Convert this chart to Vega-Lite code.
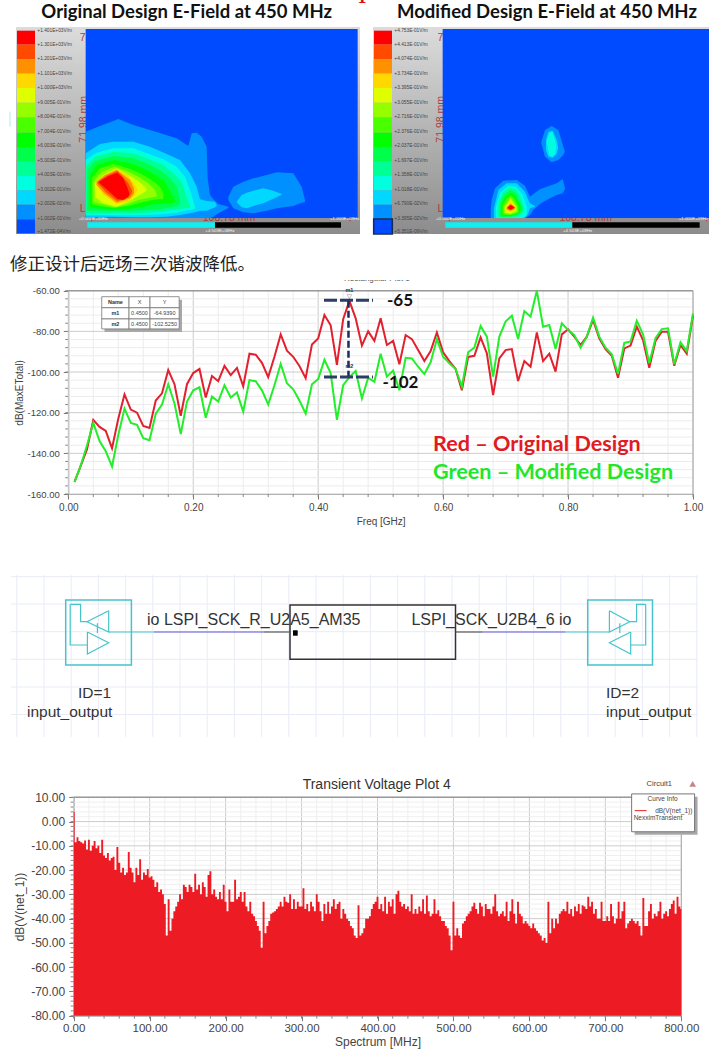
{"$schema":"https://vega.github.io/schema/vega-lite/v6.json","width":709,"height":1061,"padding":0,"autosize":{"type":"none"},"background":"white","config":{"view":{"stroke":null},"text":{"font":"Liberation Sans"},"axis":{"labelFont":"Liberation Sans","titleFont":"Liberation Sans","titleFontWeight":"normal","grid":false,"labelFlush":false,"labelOverlap":false}},
"datasets":{
"swatches":[{"l":13,"y":92,"y2":134,"xl":51,"xl2":105,"xr":42,"xr2":96},{"l":12,"y":134,"y2":178,"xl":51,"xl2":105,"xr":42,"xr2":96},{"l":11,"y":178,"y2":221,"xl":51,"xl2":105,"xr":42,"xr2":96},{"l":10,"y":221,"y2":264,"xl":51,"xl2":105,"xr":42,"xr2":96},{"l":9,"y":264,"y2":308,"xl":51,"xl2":105,"xr":42,"xr2":96},{"l":8,"y":308,"y2":352,"xl":51,"xl2":105,"xr":42,"xr2":96},{"l":7,"y":352,"y2":398,"xl":51,"xl2":105,"xr":42,"xr2":96},{"l":6,"y":398,"y2":441,"xl":51,"xl2":105,"xr":42,"xr2":96},{"l":5,"y":441,"y2":484,"xl":51,"xl2":105,"xr":42,"xr2":96},{"l":4,"y":484,"y2":527,"xl":51,"xl2":105,"xr":42,"xr2":96},{"l":3,"y":527,"y2":571,"xl":51,"xl2":105,"xr":42,"xr2":96},{"l":2,"y":571,"y2":614,"xl":51,"xl2":105,"xr":42,"xr2":96},{"l":1,"y":614,"y2":658,"xl":51,"xl2":105,"xr":42,"xr2":96},{"l":0,"y":658,"y2":700,"xl":51,"xl2":105,"xr":42,"xr2":96}],
"contL":[{"l":1,"b":"a","x":257,"y":395,"y2":654},{"l":1,"b":"a","x":300,"y":378,"y2":654},{"l":1,"b":"a","x":355,"y":357,"y2":654},{"l":1,"b":"a","x":400,"y":375,"y2":654},{"l":1,"b":"a","x":460,"y":393,"y2":654},{"l":1,"b":"a","x":530,"y":415,"y2":654},{"l":1,"b":"a","x":565,"y":438,"y2":654},{"l":1,"b":"a","x":575,"y":400,"y2":654},{"l":1,"b":"a","x":590,"y":398,"y2":654},{"l":1,"b":"a","x":605,"y":410,"y2":654},{"l":1,"b":"a","x":620,"y":440,"y2":654},{"l":1,"b":"a","x":623,"y":535,"y2":654},{"l":1,"b":"a","x":630,"y":585,"y2":654},{"l":1,"b":"a","x":640,"y":598,"y2":650},{"l":1,"b":"a","x":655,"y":612,"y2":640},{"l":1,"b":"a","x":685,"y":620,"y2":624},
{"l":1,"b":"b","x":685,"y":590,"y2":600},{"l":1,"b":"b","x":700,"y":560,"y2":625},{"l":1,"b":"b","x":730,"y":545,"y2":637},{"l":1,"b":"b","x":760,"y":535,"y2":640},{"l":1,"b":"b","x":800,"y":525,"y2":632},{"l":1,"b":"b","x":830,"y":517,"y2":625},{"l":1,"b":"b","x":880,"y":520,"y2":618},{"l":1,"b":"b","x":905,"y":560,"y2":608},{"l":1,"b":"b","x":915,"y":600,"y2":606},
{"l":2,"b":"a","x":257,"y":460,"y2":650},{"l":2,"b":"a","x":300,"y":432,"y2":650},{"l":2,"b":"a","x":340,"y":425,"y2":650},{"l":2,"b":"a","x":400,"y":425,"y2":652},{"l":2,"b":"a","x":450,"y":440,"y2":652},{"l":2,"b":"a","x":500,"y":462,"y2":650},{"l":2,"b":"a","x":540,"y":480,"y2":645},{"l":2,"b":"a","x":570,"y":520,"y2":640},{"l":2,"b":"a","x":590,"y":560,"y2":635},{"l":2,"b":"a","x":600,"y":598,"y2":632},{"l":2,"b":"a","x":620,"y":603,"y2":632},{"l":2,"b":"a","x":645,"y":605,"y2":622},{"l":2,"b":"a","x":650,"y":615,"y2":618},
{"l":2,"b":"b","x":710,"y":605,"y2":607},{"l":2,"b":"b","x":725,"y":585,"y2":622},{"l":2,"b":"b","x":740,"y":578,"y2":625},{"l":2,"b":"b","x":760,"y":572,"y2":618},{"l":2,"b":"b","x":790,"y":565,"y2":610},{"l":2,"b":"b","x":820,"y":572,"y2":596},{"l":2,"b":"b","x":845,"y":582,"y2":584},
{"l":3,"b":"a","x":257,"y":480,"y2":645},{"l":3,"b":"a","x":290,"y":458,"y2":645},{"l":3,"b":"a","x":340,"y":445,"y2":646},{"l":3,"b":"a","x":400,"y":445,"y2":646},{"l":3,"b":"a","x":440,"y":460,"y2":645},{"l":3,"b":"a","x":490,"y":478,"y2":642},{"l":3,"b":"a","x":530,"y":500,"y2":638},{"l":3,"b":"a","x":555,"y":530,"y2":632},{"l":3,"b":"a","x":570,"y":570,"y2":630},{"l":3,"b":"a","x":585,"y":620,"y2":626},
{"l":4,"b":"a","x":257,"y":500,"y2":640},{"l":4,"b":"a","x":285,"y":470,"y2":640},{"l":4,"b":"a","x":340,"y":455,"y2":640},{"l":4,"b":"a","x":400,"y":460,"y2":640},{"l":4,"b":"a","x":440,"y":475,"y2":638},{"l":4,"b":"a","x":490,"y":495,"y2":634},{"l":4,"b":"a","x":520,"y":520,"y2":630},{"l":4,"b":"a","x":545,"y":545,"y2":626},{"l":4,"b":"a","x":560,"y":590,"y2":624},{"l":4,"b":"a","x":570,"y":620,"y2":623},
{"l":5,"b":"a","x":262,"y":510,"y2":632},{"l":5,"b":"a","x":285,"y":482,"y2":632},{"l":5,"b":"a","x":340,"y":468,"y2":632},{"l":5,"b":"a","x":400,"y":475,"y2":632},{"l":5,"b":"a","x":440,"y":490,"y2":630},{"l":5,"b":"a","x":480,"y":510,"y2":628},{"l":5,"b":"a","x":510,"y":535,"y2":622},{"l":5,"b":"a","x":530,"y":560,"y2":618},{"l":5,"b":"a","x":540,"y":600,"y2":615},
{"l":6,"b":"a","x":270,"y":525,"y2":620},{"l":6,"b":"a","x":290,"y":495,"y2":625},{"l":6,"b":"a","x":340,"y":480,"y2":628},{"l":6,"b":"a","x":390,"y":490,"y2":626},{"l":6,"b":"a","x":430,"y":505,"y2":620},{"l":6,"b":"a","x":465,"y":525,"y2":612},{"l":6,"b":"a","x":495,"y":545,"y2":610},{"l":6,"b":"a","x":510,"y":575,"y2":610},{"l":6,"b":"a","x":525,"y":600,"y2":605},
{"l":7,"b":"a","x":275,"y":535,"y2":612},{"l":7,"b":"a","x":300,"y":505,"y2":618},{"l":7,"b":"a","x":340,"y":492,"y2":624},{"l":7,"b":"a","x":385,"y":505,"y2":618},{"l":7,"b":"a","x":420,"y":520,"y2":608},{"l":7,"b":"a","x":455,"y":540,"y2":600},{"l":7,"b":"a","x":480,"y":560,"y2":598},{"l":7,"b":"a","x":490,"y":580,"y2":598},
{"l":8,"b":"a","x":280,"y":545,"y2":605},{"l":8,"b":"a","x":305,"y":515,"y2":612},{"l":8,"b":"a","x":345,"y":500,"y2":622},{"l":8,"b":"a","x":385,"y":515,"y2":612},{"l":8,"b":"a","x":415,"y":530,"y2":600},{"l":8,"b":"a","x":445,"y":550,"y2":594},{"l":8,"b":"a","x":465,"y":570,"y2":590},{"l":8,"b":"a","x":470,"y":585,"y2":590},
{"l":9,"b":"a","x":285,"y":550,"y2":590},{"l":9,"b":"a","x":310,"y":525,"y2":610},{"l":9,"b":"a","x":350,"y":505,"y2":620},{"l":9,"b":"a","x":385,"y":525,"y2":605},{"l":9,"b":"a","x":410,"y":540,"y2":590},{"l":9,"b":"a","x":435,"y":560,"y2":575},{"l":9,"b":"a","x":440,"y":568,"y2":570},
{"l":10,"b":"a","x":287,"y":548,"y2":552},{"l":10,"b":"a","x":310,"y":527,"y2":585},{"l":10,"b":"a","x":350,"y":507,"y2":612},{"l":10,"b":"a","x":385,"y":527,"y2":605},{"l":10,"b":"a","x":405,"y":555,"y2":585},{"l":10,"b":"a","x":412,"y":568,"y2":572},
{"l":11,"b":"a","x":290,"y":545,"y2":555},{"l":11,"b":"a","x":315,"y":525,"y2":582},{"l":11,"b":"a","x":350,"y":510,"y2":608},{"l":11,"b":"a","x":390,"y":540,"y2":595},{"l":11,"b":"a","x":402,"y":565,"y2":580},
{"l":12,"b":"a","x":293,"y":545,"y2":550},{"l":12,"b":"a","x":320,"y":527,"y2":578},{"l":12,"b":"a","x":352,"y":512,"y2":603},{"l":12,"b":"a","x":385,"y":550,"y2":592},{"l":12,"b":"a","x":396,"y":570,"y2":578},
{"l":13,"b":"a","x":297,"y":545,"y2":548},{"l":13,"b":"a","x":325,"y":528,"y2":572},{"l":13,"b":"a","x":352,"y":518,"y2":597},{"l":13,"b":"a","x":370,"y":535,"y2":600},{"l":13,"b":"a","x":383,"y":565,"y2":592},{"l":13,"b":"a","x":388,"y":580,"y2":585}],
"contR":[{"l":1,"b":"a","x":392,"y":630,"y2":654},{"l":1,"b":"a","x":395,"y":600,"y2":654},{"l":1,"b":"a","x":405,"y":565,"y2":654},{"l":1,"b":"a","x":430,"y":542,"y2":654},{"l":1,"b":"a","x":470,"y":540,"y2":654},{"l":1,"b":"a","x":495,"y":557,"y2":654},{"l":1,"b":"a","x":510,"y":590,"y2":645},{"l":1,"b":"a","x":520,"y":582,"y2":630},{"l":1,"b":"a","x":540,"y":568,"y2":612},{"l":1,"b":"a","x":560,"y":560,"y2":600},{"l":1,"b":"a","x":590,"y":550,"y2":585},{"l":1,"b":"a","x":608,"y":537,"y2":580},{"l":1,"b":"a","x":615,"y":565,"y2":567},
{"l":1,"b":"b","x":544,"y":425,"y2":430},{"l":1,"b":"b","x":555,"y":390,"y2":470},{"l":1,"b":"b","x":575,"y":378,"y2":487},{"l":1,"b":"b","x":595,"y":390,"y2":480},{"l":1,"b":"b","x":610,"y":440,"y2":465},{"l":1,"b":"b","x":614,"y":452,"y2":456},
{"l":2,"b":"a","x":402,"y":625,"y2":654},{"l":2,"b":"a","x":415,"y":570,"y2":654},{"l":2,"b":"a","x":440,"y":550,"y2":654},{"l":2,"b":"a","x":470,"y":550,"y2":654},{"l":2,"b":"a","x":495,"y":575,"y2":654},{"l":2,"b":"a","x":505,"y":600,"y2":640},{"l":2,"b":"a","x":510,"y":610,"y2":625},{"l":2,"b":"a","x":525,"y":618,"y2":620},
{"l":2,"b":"b","x":558,"y":420,"y2":450},{"l":2,"b":"b","x":565,"y":395,"y2":470},{"l":2,"b":"b","x":578,"y":392,"y2":473},{"l":2,"b":"b","x":590,"y":420,"y2":462},{"l":2,"b":"b","x":594,"y":440,"y2":445},
{"l":3,"b":"a","x":408,"y":620,"y2":654},{"l":3,"b":"a","x":420,"y":578,"y2":654},{"l":3,"b":"a","x":445,"y":558,"y2":654},{"l":3,"b":"a","x":468,"y":560,"y2":654},{"l":3,"b":"a","x":488,"y":585,"y2":654},{"l":3,"b":"a","x":500,"y":620,"y2":645},
{"l":3,"b":"b","x":561,"y":420,"y2":430},{"l":3,"b":"b","x":568,"y":400,"y2":465},{"l":3,"b":"b","x":577,"y":395,"y2":470},{"l":3,"b":"b","x":585,"y":420,"y2":460},{"l":3,"b":"b","x":588,"y":440,"y2":443},
{"l":4,"b":"a","x":415,"y":610,"y2":650},{"l":4,"b":"a","x":430,"y":575,"y2":652},{"l":4,"b":"a","x":450,"y":562,"y2":652},{"l":4,"b":"a","x":470,"y":570,"y2":650},{"l":4,"b":"a","x":485,"y":600,"y2":642},{"l":4,"b":"a","x":492,"y":625,"y2":635},
{"l":5,"b":"a","x":420,"y":610,"y2":650},{"l":5,"b":"a","x":432,"y":585,"y2":650},{"l":5,"b":"a","x":450,"y":570,"y2":650},{"l":5,"b":"a","x":468,"y":578,"y2":646},{"l":5,"b":"a","x":480,"y":605,"y2":640},{"l":5,"b":"a","x":488,"y":625,"y2":630},
{"l":6,"b":"a","x":425,"y":612,"y2":645},{"l":6,"b":"a","x":437,"y":590,"y2":648},{"l":6,"b":"a","x":452,"y":578,"y2":648},{"l":6,"b":"a","x":465,"y":587,"y2":645},{"l":6,"b":"a","x":478,"y":612,"y2":640},{"l":6,"b":"a","x":482,"y":622,"y2":625},
{"l":7,"b":"a","x":428,"y":615,"y2":642},{"l":7,"b":"a","x":440,"y":595,"y2":645},{"l":7,"b":"a","x":452,"y":585,"y2":645},{"l":7,"b":"a","x":462,"y":595,"y2":643},{"l":7,"b":"a","x":475,"y":618,"y2":638},
{"l":8,"b":"a","x":432,"y":618,"y2":640},{"l":8,"b":"a","x":452,"y":592,"y2":643},{"l":8,"b":"a","x":472,"y":620,"y2":635},
{"l":9,"b":"a","x":436,"y":620,"y2":638},{"l":9,"b":"a","x":452,"y":598,"y2":640},{"l":9,"b":"a","x":468,"y":622,"y2":632},
{"l":10,"b":"a","x":438,"y":622,"y2":632},{"l":10,"b":"a","x":452,"y":605,"y2":636},{"l":10,"b":"a","x":467,"y":622,"y2":630},
{"l":11,"b":"a","x":440,"y":622,"y2":628},{"l":11,"b":"a","x":452,"y":612,"y2":632},{"l":11,"b":"a","x":466,"y":622,"y2":625},
{"l":12,"b":"a","x":442,"y":622,"y2":626},{"l":12,"b":"a","x":452,"y":613,"y2":630},{"l":12,"b":"a","x":464,"y":622,"y2":624},
{"l":13,"b":"a","x":444,"y":622,"y2":625},{"l":13,"b":"a","x":452,"y":615,"y2":629},{"l":13,"b":"a","x":462,"y":622,"y2":623}],
"curves":[{"x":0.01,"o":-154,"m":-154},{"x":0.02,"o":-146,"m":-146},{"x":0.03,"o":-138,"m":-136},{"x":0.04,"o":-123.5,"m":-125},{"x":0.05,"o":-127,"m":-134},{"x":0.06,"o":-129,"m":-139},{"x":0.07,"o":-137.5,"m":-146.5},{"x":0.08,"o":-123,"m":-131},{"x":0.09,"o":-111,"m":-118},{"x":0.1,"o":-118.5,"m":-125},{"x":0.11,"o":-120,"m":-126},{"x":0.12,"o":-126.5,"m":-132.5},{"x":0.13,"o":-127.5,"m":-133.5},{"x":0.14,"o":-114,"m":-120.5},{"x":0.15,"o":-110.5,"m":-116},{"x":0.16,"o":-99,"m":-106},{"x":0.17,"o":-106,"m":-115.5},{"x":0.18,"o":-121.5,"m":-130.5},{"x":0.19,"o":-106,"m":-114.5},{"x":0.2,"o":-100.5,"m":-109},{"x":0.21,"o":-98.5,"m":-107.5},{"x":0.22,"o":-112.5,"m":-122.5},{"x":0.23,"o":-102,"m":-112},{"x":0.24,"o":-104.5,"m":-114.5},{"x":0.25,"o":-97,"m":-106.5},{"x":0.26,"o":-101.5,"m":-112.5},{"x":0.27,"o":-98,"m":-110},{"x":0.28,"o":-107,"m":-119.5},{"x":0.29,"o":-91,"m":-104},{"x":0.3,"o":-91.5,"m":-104.5},{"x":0.31,"o":-95.5,"m":-109},{"x":0.32,"o":-102.5,"m":-116},{"x":0.33,"o":-92.5,"m":-106.5},{"x":0.34,"o":-81.5,"m":-96},{"x":0.35,"o":-89.5,"m":-105.5},{"x":0.36,"o":-92.5,"m":-108.5},{"x":0.37,"o":-97,"m":-114},{"x":0.38,"o":-103,"m":-120.5},{"x":0.39,"o":-86.5,"m":-106},{"x":0.4,"o":-83.5,"m":-103.5},{"x":0.41,"o":-72,"m":-94},{"x":0.42,"o":-77,"m":-100.5},{"x":0.43,"o":-96.5,"m":-123.5},{"x":0.44,"o":-74,"m":-106.5},{"x":0.45,"o":-65,"m":-102.5},{"x":0.46,"o":-73.6,"m":-99.5},{"x":0.47,"o":-87,"m":-113},{"x":0.48,"o":-80,"m":-102.8},{"x":0.49,"o":-84.7,"m":-104.8},{"x":0.5,"o":-73.6,"m":-91},{"x":0.51,"o":-86.7,"m":-102.3},{"x":0.52,"o":-84.7,"m":-99.3},{"x":0.53,"o":-96.2,"m":-109},{"x":0.54,"o":-81.8,"m":-93},{"x":0.55,"o":-83.8,"m":-93.3},{"x":0.56,"o":-89.2,"m":-97.4},{"x":0.57,"o":-94.6,"m":-101},{"x":0.58,"o":-89.7,"m":-95.2},{"x":0.59,"o":-80.5,"m":-83.8},{"x":0.6,"o":-90.3,"m":-92.5},{"x":0.61,"o":-94.6,"m":-95.7},{"x":0.62,"o":-98.5,"m":-98.5},{"x":0.63,"o":-109,"m":-107.2},{"x":0.64,"o":-92.6,"m":-90.3},{"x":0.65,"o":-92,"m":-88},{"x":0.66,"o":-83,"m":-77.4},{"x":0.67,"o":-90.8,"m":-82.6},{"x":0.68,"o":-111.3,"m":-102.3},{"x":0.69,"o":-93.3,"m":-82.6},{"x":0.7,"o":-89.2,"m":-75.2},{"x":0.71,"o":-88.7,"m":-72.3},{"x":0.72,"o":-104.4,"m":-83.8},{"x":0.73,"o":-94.6,"m":-70},{"x":0.74,"o":-97.4,"m":-72.8},{"x":0.75,"o":-80.5,"m":-60},{"x":0.76,"o":-94.6,"m":-77.7},{"x":0.77,"o":-91,"m":-76.9},{"x":0.78,"o":-99.8,"m":-88.7},{"x":0.79,"o":-81.5,"m":-76},{"x":0.8,"o":-79,"m":-79.3},{"x":0.81,"o":-82.6,"m":-81.8},{"x":0.82,"o":-86.7,"m":-88},{"x":0.83,"o":-82.6,"m":-82.6},{"x":0.84,"o":-74.4,"m":-73.3},{"x":0.85,"o":-83.4,"m":-82.6},{"x":0.86,"o":-88.7,"m":-88},{"x":0.87,"o":-92,"m":-91.3},{"x":0.88,"o":-102.8,"m":-101},{"x":0.89,"o":-88.4,"m":-85.7},{"x":0.9,"o":-87,"m":-85},{"x":0.91,"o":-77.7,"m":-74.8},{"x":0.92,"o":-84.3,"m":-81.5},{"x":0.93,"o":-97.9,"m":-95.7},{"x":0.94,"o":-84.7,"m":-83.4},{"x":0.95,"o":-80.2,"m":-78.9},{"x":0.96,"o":-80.2,"m":-78.5},{"x":0.97,"o":-96.9,"m":-96.2},{"x":0.98,"o":-86.7,"m":-85.4},{"x":0.99,"o":-91,"m":-89.7},{"x":1,"o":-72.3,"m":-71.2}],
"gridLX":[{"x":0,"k":"M","y":-160,"y2":-60,"t":-161.5},{"x":0.04,"k":"m","y":-160,"y2":-60,"t":-161.5},{"x":0.08,"k":"m","y":-160,"y2":-60,"t":-161.5},{"x":0.12,"k":"m","y":-160,"y2":-60,"t":-161.5},{"x":0.16,"k":"m","y":-160,"y2":-60,"t":-161.5},{"x":0.2,"k":"M","y":-160,"y2":-60,"t":-161.5},{"x":0.24,"k":"m","y":-160,"y2":-60,"t":-161.5},{"x":0.28,"k":"m","y":-160,"y2":-60,"t":-161.5},{"x":0.32,"k":"m","y":-160,"y2":-60,"t":-161.5},{"x":0.36,"k":"m","y":-160,"y2":-60,"t":-161.5},{"x":0.4,"k":"M","y":-160,"y2":-60,"t":-161.5},{"x":0.44,"k":"m","y":-160,"y2":-60,"t":-161.5},{"x":0.48,"k":"m","y":-160,"y2":-60,"t":-161.5},{"x":0.52,"k":"m","y":-160,"y2":-60,"t":-161.5},{"x":0.56,"k":"m","y":-160,"y2":-60,"t":-161.5},{"x":0.6,"k":"M","y":-160,"y2":-60,"t":-161.5},{"x":0.64,"k":"m","y":-160,"y2":-60,"t":-161.5},{"x":0.68,"k":"m","y":-160,"y2":-60,"t":-161.5},{"x":0.72,"k":"m","y":-160,"y2":-60,"t":-161.5},{"x":0.76,"k":"m","y":-160,"y2":-60,"t":-161.5},{"x":0.8,"k":"M","y":-160,"y2":-60,"t":-161.5},{"x":0.84,"k":"m","y":-160,"y2":-60,"t":-161.5},{"x":0.88,"k":"m","y":-160,"y2":-60,"t":-161.5},{"x":0.92,"k":"m","y":-160,"y2":-60,"t":-161.5},{"x":0.96,"k":"m","y":-160,"y2":-60,"t":-161.5},{"x":1,"k":"M","y":-160,"y2":-60,"t":-161.5}],
"gridLY":[{"y":-160,"k":"M","x":0,"x2":1,"t":-0.005},{"y":-156,"k":"m","x":0,"x2":1,"t":-0.005},{"y":-152,"k":"m","x":0,"x2":1,"t":-0.005},{"y":-148,"k":"m","x":0,"x2":1,"t":-0.005},{"y":-144,"k":"m","x":0,"x2":1,"t":-0.005},{"y":-140,"k":"M","x":0,"x2":1,"t":-0.005},{"y":-136,"k":"m","x":0,"x2":1,"t":-0.005},{"y":-132,"k":"m","x":0,"x2":1,"t":-0.005},{"y":-128,"k":"m","x":0,"x2":1,"t":-0.005},{"y":-124,"k":"m","x":0,"x2":1,"t":-0.005},{"y":-120,"k":"M","x":0,"x2":1,"t":-0.005},{"y":-116,"k":"m","x":0,"x2":1,"t":-0.005},{"y":-112,"k":"m","x":0,"x2":1,"t":-0.005},{"y":-108,"k":"m","x":0,"x2":1,"t":-0.005},{"y":-104,"k":"m","x":0,"x2":1,"t":-0.005},{"y":-100,"k":"M","x":0,"x2":1,"t":-0.005},{"y":-96,"k":"m","x":0,"x2":1,"t":-0.005},{"y":-92,"k":"m","x":0,"x2":1,"t":-0.005},{"y":-88,"k":"m","x":0,"x2":1,"t":-0.005},{"y":-84,"k":"m","x":0,"x2":1,"t":-0.005},{"y":-80,"k":"M","x":0,"x2":1,"t":-0.005},{"y":-76,"k":"m","x":0,"x2":1,"t":-0.005},{"y":-72,"k":"m","x":0,"x2":1,"t":-0.005},{"y":-68,"k":"m","x":0,"x2":1,"t":-0.005},{"y":-64,"k":"m","x":0,"x2":1,"t":-0.005},{"y":-60,"k":"M","x":0,"x2":1,"t":-0.005}],
"gridSX":[{"x":0,"k":"M","y":-80,"y2":10,"t":-81.2},{"x":20,"k":"m","y":-80,"y2":10,"t":-81.2},{"x":40,"k":"m","y":-80,"y2":10,"t":-81.2},{"x":60,"k":"m","y":-80,"y2":10,"t":-81.2},{"x":80,"k":"m","y":-80,"y2":10,"t":-81.2},{"x":100,"k":"M","y":-80,"y2":10,"t":-81.2},{"x":120,"k":"m","y":-80,"y2":10,"t":-81.2},{"x":140,"k":"m","y":-80,"y2":10,"t":-81.2},{"x":160,"k":"m","y":-80,"y2":10,"t":-81.2},{"x":180,"k":"m","y":-80,"y2":10,"t":-81.2},{"x":200,"k":"M","y":-80,"y2":10,"t":-81.2},{"x":220,"k":"m","y":-80,"y2":10,"t":-81.2},{"x":240,"k":"m","y":-80,"y2":10,"t":-81.2},{"x":260,"k":"m","y":-80,"y2":10,"t":-81.2},{"x":280,"k":"m","y":-80,"y2":10,"t":-81.2},{"x":300,"k":"M","y":-80,"y2":10,"t":-81.2},{"x":320,"k":"m","y":-80,"y2":10,"t":-81.2},{"x":340,"k":"m","y":-80,"y2":10,"t":-81.2},{"x":360,"k":"m","y":-80,"y2":10,"t":-81.2},{"x":380,"k":"m","y":-80,"y2":10,"t":-81.2},{"x":400,"k":"M","y":-80,"y2":10,"t":-81.2},{"x":420,"k":"m","y":-80,"y2":10,"t":-81.2},{"x":440,"k":"m","y":-80,"y2":10,"t":-81.2},{"x":460,"k":"m","y":-80,"y2":10,"t":-81.2},{"x":480,"k":"m","y":-80,"y2":10,"t":-81.2},{"x":500,"k":"M","y":-80,"y2":10,"t":-81.2},{"x":520,"k":"m","y":-80,"y2":10,"t":-81.2},{"x":540,"k":"m","y":-80,"y2":10,"t":-81.2},{"x":560,"k":"m","y":-80,"y2":10,"t":-81.2},{"x":580,"k":"m","y":-80,"y2":10,"t":-81.2},{"x":600,"k":"M","y":-80,"y2":10,"t":-81.2},{"x":620,"k":"m","y":-80,"y2":10,"t":-81.2},{"x":640,"k":"m","y":-80,"y2":10,"t":-81.2},{"x":660,"k":"m","y":-80,"y2":10,"t":-81.2},{"x":680,"k":"m","y":-80,"y2":10,"t":-81.2},{"x":700,"k":"M","y":-80,"y2":10,"t":-81.2},{"x":720,"k":"m","y":-80,"y2":10,"t":-81.2},{"x":740,"k":"m","y":-80,"y2":10,"t":-81.2},{"x":760,"k":"m","y":-80,"y2":10,"t":-81.2},{"x":780,"k":"m","y":-80,"y2":10,"t":-81.2},{"x":800,"k":"M","y":-80,"y2":10,"t":-81.2}],
"gridSY":[{"y":-80,"k":"M","x":0,"x2":800,"t":-4},{"y":-78,"k":"m","x":0,"x2":800,"t":-4},{"y":-76,"k":"m","x":0,"x2":800,"t":-4},{"y":-74,"k":"m","x":0,"x2":800,"t":-4},{"y":-72,"k":"m","x":0,"x2":800,"t":-4},{"y":-70,"k":"M","x":0,"x2":800,"t":-4},{"y":-68,"k":"m","x":0,"x2":800,"t":-4},{"y":-66,"k":"m","x":0,"x2":800,"t":-4},{"y":-64,"k":"m","x":0,"x2":800,"t":-4},{"y":-62,"k":"m","x":0,"x2":800,"t":-4},{"y":-60,"k":"M","x":0,"x2":800,"t":-4},{"y":-58,"k":"m","x":0,"x2":800,"t":-4},{"y":-56,"k":"m","x":0,"x2":800,"t":-4},{"y":-54,"k":"m","x":0,"x2":800,"t":-4},{"y":-52,"k":"m","x":0,"x2":800,"t":-4},{"y":-50,"k":"M","x":0,"x2":800,"t":-4},{"y":-48,"k":"m","x":0,"x2":800,"t":-4},{"y":-46,"k":"m","x":0,"x2":800,"t":-4},{"y":-44,"k":"m","x":0,"x2":800,"t":-4},{"y":-42,"k":"m","x":0,"x2":800,"t":-4},{"y":-40,"k":"M","x":0,"x2":800,"t":-4},{"y":-38,"k":"m","x":0,"x2":800,"t":-4},{"y":-36,"k":"m","x":0,"x2":800,"t":-4},{"y":-34,"k":"m","x":0,"x2":800,"t":-4},{"y":-32,"k":"m","x":0,"x2":800,"t":-4},{"y":-30,"k":"M","x":0,"x2":800,"t":-4},{"y":-28,"k":"m","x":0,"x2":800,"t":-4},{"y":-26,"k":"m","x":0,"x2":800,"t":-4},{"y":-24,"k":"m","x":0,"x2":800,"t":-4},{"y":-22,"k":"m","x":0,"x2":800,"t":-4},{"y":-20,"k":"M","x":0,"x2":800,"t":-4},{"y":-18,"k":"m","x":0,"x2":800,"t":-4},{"y":-16,"k":"m","x":0,"x2":800,"t":-4},{"y":-14,"k":"m","x":0,"x2":800,"t":-4},{"y":-12,"k":"m","x":0,"x2":800,"t":-4},{"y":-10,"k":"M","x":0,"x2":800,"t":-4},{"y":-8,"k":"m","x":0,"x2":800,"t":-4},{"y":-6,"k":"m","x":0,"x2":800,"t":-4},{"y":-4,"k":"m","x":0,"x2":800,"t":-4},{"y":-2,"k":"m","x":0,"x2":800,"t":-4},{"y":0,"k":"M","x":0,"x2":800,"t":-4},{"y":2,"k":"m","x":0,"x2":800,"t":-4},{"y":4,"k":"m","x":0,"x2":800,"t":-4},{"y":6,"k":"m","x":0,"x2":800,"t":-4},{"y":8,"k":"m","x":0,"x2":800,"t":-4},{"y":10,"k":"M","x":0,"x2":800,"t":-4}],
"spectrum":[{"f":0,"v":4},{"f":2.5,"v":-8.5},{"f":5,"v":-6.5},{"f":7.5,"v":-8},{"f":10,"v":-8.5},{"f":12.5,"v":-9},{"f":15,"v":-7.8},{"f":17.5,"v":-11.5},{"f":20,"v":-7.5},{"f":22.5,"v":-12},{"f":25,"v":-10},{"f":27.5,"v":-8},{"f":30,"v":-11},{"f":32.5,"v":-10},{"f":35,"v":-13},{"f":37.5,"v":-7.5},{"f":40,"v":-14},{"f":42.5,"v":-15},{"f":45,"v":-13},{"f":47.5,"v":-16},{"f":50,"v":-15},{"f":52.5,"v":-14.5},{"f":55,"v":-20},{"f":57.5,"v":-10.5},{"f":60,"v":-17},{"f":62.5,"v":-21},{"f":65,"v":-19},{"f":67.5,"v":-22},{"f":70,"v":-21},{"f":72.5,"v":-12.5},{"f":75,"v":-19},{"f":77.5,"v":-21},{"f":80,"v":-25},{"f":82.5,"v":-19},{"f":85,"v":-22},{"f":87.5,"v":-15.5},{"f":90,"v":-24},{"f":92.5,"v":-21},{"f":95,"v":-22},{"f":97.5,"v":-19.5},{"f":100,"v":-23},{"f":102.5,"v":-22.5},{"f":105,"v":-24},{"f":107.5,"v":-27},{"f":110,"v":-25},{"f":112.5,"v":-29},{"f":115,"v":-28},{"f":117.5,"v":-30},{"f":120,"v":-34},{"f":122.5,"v":-47},{"f":125,"v":-32},{"f":127.5,"v":-45},{"f":130,"v":-40},{"f":132.5,"v":-37},{"f":135,"v":-35},{"f":137.5,"v":-33},{"f":140,"v":-30},{"f":142.5,"v":-32},{"f":145,"v":-26},{"f":147.5,"v":-27},{"f":150,"v":-29},{"f":152.5,"v":-26},{"f":155,"v":-27},{"f":157.5,"v":-29},{"f":160,"v":-21.5},{"f":162.5,"v":-28},{"f":165,"v":-26},{"f":167.5,"v":-30},{"f":170,"v":-25},{"f":172.5,"v":-27},{"f":175,"v":-31},{"f":177.5,"v":-22},{"f":180,"v":-20.5},{"f":182.5,"v":-30},{"f":185,"v":-28},{"f":187.5,"v":-31},{"f":190,"v":-32},{"f":192.5,"v":-29},{"f":195,"v":-32},{"f":197.5,"v":-26},{"f":200,"v":-33},{"f":202.5,"v":-37},{"f":205,"v":-28},{"f":207.5,"v":-33},{"f":210,"v":-33},{"f":212.5,"v":-24},{"f":215,"v":-32},{"f":217.5,"v":-31},{"f":220,"v":-29},{"f":222.5,"v":-33},{"f":225,"v":-29},{"f":227.5,"v":-35},{"f":230,"v":-37},{"f":232.5,"v":-33},{"f":235,"v":-38},{"f":237.5,"v":-39},{"f":240,"v":-41},{"f":242.5,"v":-43},{"f":245,"v":-45},{"f":247.5,"v":-52},{"f":250,"v":-33},{"f":252.5,"v":-46},{"f":255,"v":-43},{"f":257.5,"v":-41},{"f":260,"v":-38},{"f":262.5,"v":-37.5},{"f":265,"v":-37},{"f":267.5,"v":-36},{"f":270,"v":-35},{"f":272.5,"v":-33},{"f":275,"v":-35},{"f":277.5,"v":-31},{"f":280,"v":-33},{"f":282.5,"v":-33.5},{"f":285,"v":-30},{"f":287.5,"v":-36},{"f":290,"v":-32},{"f":292.5,"v":-36},{"f":295,"v":-33},{"f":297.5,"v":-35},{"f":300,"v":-35},{"f":302.5,"v":-27.5},{"f":305,"v":-36},{"f":307.5,"v":-34},{"f":310,"v":-37},{"f":312.5,"v":-33},{"f":315,"v":-35},{"f":317.5,"v":-37},{"f":320,"v":-30},{"f":322.5,"v":-33},{"f":325,"v":-37},{"f":327.5,"v":-41},{"f":330,"v":-34},{"f":332.5,"v":-38},{"f":335,"v":-33},{"f":337.5,"v":-38},{"f":340,"v":-35},{"f":342.5,"v":-32},{"f":345,"v":-36},{"f":347.5,"v":-34},{"f":350,"v":-33},{"f":352.5,"v":-40},{"f":355,"v":-36},{"f":357.5,"v":-38},{"f":360,"v":-40},{"f":362.5,"v":-41},{"f":365,"v":-43},{"f":367.5,"v":-44},{"f":370,"v":-47},{"f":372.5,"v":-48},{"f":375,"v":-34.5},{"f":377.5,"v":-47},{"f":380,"v":-46},{"f":382.5,"v":-44},{"f":385,"v":-40},{"f":387.5,"v":-40},{"f":390,"v":-39},{"f":392.5,"v":-36},{"f":395,"v":-34},{"f":397.5,"v":-33},{"f":400,"v":-31},{"f":402.5,"v":-36},{"f":405,"v":-34},{"f":407.5,"v":-37},{"f":410,"v":-31},{"f":412.5,"v":-38},{"f":415,"v":-33},{"f":417.5,"v":-35},{"f":420,"v":-32},{"f":422.5,"v":-38},{"f":425,"v":-30},{"f":427.5,"v":-28.5},{"f":430,"v":-33},{"f":432.5,"v":-35},{"f":435,"v":-34},{"f":437.5,"v":-36},{"f":440,"v":-35},{"f":442.5,"v":-37},{"f":445,"v":-30},{"f":447.5,"v":-38},{"f":450,"v":-36},{"f":452.5,"v":-38},{"f":455,"v":-35},{"f":457.5,"v":-37},{"f":460,"v":-32},{"f":462.5,"v":-38},{"f":465,"v":-30.5},{"f":467.5,"v":-37},{"f":470,"v":-39},{"f":472.5,"v":-38},{"f":475,"v":-32},{"f":477.5,"v":-38},{"f":480,"v":-36.5},{"f":482.5,"v":-39},{"f":485,"v":-41},{"f":487.5,"v":-41},{"f":490,"v":-43},{"f":492.5,"v":-44},{"f":495,"v":-47},{"f":497.5,"v":-53},{"f":500,"v":-33},{"f":502.5,"v":-47},{"f":505,"v":-44},{"f":507.5,"v":-47},{"f":510,"v":-48},{"f":512.5,"v":-42},{"f":515,"v":-41},{"f":517.5,"v":-39},{"f":520,"v":-38},{"f":522.5,"v":-37},{"f":525,"v":-35},{"f":527.5,"v":-33.5},{"f":530,"v":-36},{"f":532.5,"v":-38},{"f":535,"v":-33.5},{"f":537.5,"v":-35},{"f":540,"v":-39},{"f":542.5,"v":-34},{"f":545,"v":-36},{"f":547.5,"v":-36},{"f":550,"v":-38},{"f":552.5,"v":-35},{"f":555,"v":-30},{"f":557.5,"v":-37},{"f":560,"v":-39},{"f":562.5,"v":-38},{"f":565,"v":-37},{"f":567.5,"v":-39},{"f":570,"v":-33},{"f":572.5,"v":-41},{"f":575,"v":-37},{"f":577.5,"v":-32},{"f":580,"v":-38},{"f":582.5,"v":-42},{"f":585,"v":-33},{"f":587.5,"v":-38},{"f":590,"v":-39},{"f":592.5,"v":-42},{"f":595,"v":-41},{"f":597.5,"v":-42},{"f":600,"v":-43},{"f":602.5,"v":-44},{"f":605,"v":-42},{"f":607.5,"v":-44},{"f":610,"v":-45},{"f":612.5,"v":-46},{"f":615,"v":-47},{"f":617.5,"v":-49},{"f":620,"v":-48},{"f":622.5,"v":-50},{"f":625,"v":-33},{"f":627.5,"v":-46},{"f":630,"v":-40},{"f":632.5,"v":-44},{"f":635,"v":-40},{"f":637.5,"v":-42},{"f":640,"v":-38},{"f":642.5,"v":-37},{"f":645,"v":-36},{"f":647.5,"v":-37},{"f":650,"v":-33},{"f":652.5,"v":-38},{"f":655,"v":-36},{"f":657.5,"v":-39},{"f":660,"v":-35},{"f":662.5,"v":-37},{"f":665,"v":-34},{"f":667.5,"v":-38},{"f":670,"v":-34.5},{"f":672.5,"v":-35},{"f":675,"v":-36},{"f":677.5,"v":-31},{"f":680,"v":-35},{"f":682.5,"v":-33},{"f":685,"v":-38},{"f":687.5,"v":-36},{"f":690,"v":-40},{"f":692.5,"v":-40},{"f":695,"v":-33},{"f":697.5,"v":-41},{"f":700,"v":-41},{"f":702.5,"v":-39},{"f":705,"v":-41},{"f":707.5,"v":-34},{"f":710,"v":-39},{"f":712.5,"v":-42},{"f":715,"v":-40},{"f":717.5,"v":-33},{"f":720,"v":-40},{"f":722.5,"v":-37},{"f":725,"v":-33},{"f":727.5,"v":-44},{"f":730,"v":-42},{"f":732.5,"v":-41},{"f":735,"v":-40},{"f":737.5,"v":-41},{"f":740,"v":-42},{"f":742.5,"v":-41},{"f":745,"v":-43},{"f":747.5,"v":-47},{"f":750,"v":-31.5},{"f":752.5,"v":-43},{"f":755,"v":-43},{"f":757.5,"v":-37},{"f":760,"v":-34},{"f":762.5,"v":-40},{"f":765,"v":-38},{"f":767.5,"v":-39},{"f":770,"v":-37},{"f":772.5,"v":-33},{"f":775,"v":-40},{"f":777.5,"v":-38},{"f":780,"v":-37},{"f":782.5,"v":-39},{"f":785,"v":-36},{"f":787.5,"v":-34},{"f":790,"v":-32.5},{"f":792.5,"v":-38},{"f":795,"v":-31},{"f":797.5,"v":-35},{"f":800,"v":-36}]
},
"resolve":{"scale":{"x":"independent","y":"independent","color":"independent"}},
"layer":[
{"encoding":{"x":{"field":"x","type":"quantitative","scale":{"domain":[48,1080],"range":[16,360]},"axis":null},"y":{"field":"y","type":"quantitative","scale":{"domain":[81,702],"range":[27,234]},"axis":null}},
"layer":[
{"data":{"values":[{"x":48,"x2":1080,"y":81,"y2":702}]},"mark":{"type":"rect","fill":{"x1":0,"y1":0,"x2":0,"y2":1,"gradient":"linear","stops":[{"offset":0,"color":"#dcdcdc"},{"offset":1,"color":"#8c8c8c"}]}},"encoding":{"x2":{"field":"x2"},"y2":{"field":"y2"}}},
{"data":{"name":"swatches"},"mark":{"type":"rect"},"encoding":{"x":{"field":"xl","type":"quantitative"},"x2":{"field":"xl2"},"y2":{"field":"y2"},"color":{"field":"l","type":"ordinal","scale":{"domain":[0,1,2,3,4,5,6,7,8,9,10,11,12,13],"range":["#004aff","#0090ff","#00d8ff","#00ffdf","#00ff95","#00ff4a","#00ff00","#4aff00","#95ff00","#dfff00","#ffd800","#ff9000","#ff4a00","#ff0000"]},"legend":null}}},
{"data":{"values":[{"x":112,"y":92,"t":"+1.401E+03V/m"},{"x":112,"y":134,"t":"+1.301E+03V/m"},{"x":112,"y":178,"t":"+1.201E+03V/m"},{"x":112,"y":221,"t":"+1.101E+03V/m"},{"x":112,"y":264,"t":"+1.000E+03V/m"},{"x":112,"y":308,"t":"+9.005E-01V/m"},{"x":112,"y":352,"t":"+8.004E-01V/m"},{"x":112,"y":395,"t":"+7.004E-01V/m"},{"x":112,"y":439,"t":"+6.003E-01V/m"},{"x":112,"y":482,"t":"+5.003E-01V/m"},{"x":112,"y":526,"t":"+4.003E-01V/m"},{"x":112,"y":569,"t":"+3.002E-01V/m"},{"x":112,"y":612,"t":"+2.002E-01V/m"},{"x":112,"y":656,"t":"+1.002E-01V/m"},{"x":112,"y":695,"t":"+1.472E-04V/m"}]},"mark":{"type":"text","align":"left","baseline":"middle","fontSize":4.8,"color":"#444444"},"encoding":{"text":{"field":"t"}}},
{"data":{"values":[{"x":253,"y":358,"t":"71.98 mm"}]},"mark":{"type":"text","angle":270,"align":"center","baseline":"middle","fontSize":10.5,"color":"#b03a3a"},"encoding":{"text":{"field":"t"}}},
{"data":{"values":[{"x":687,"y":654,"t":"108.78 mm"},{"x":248,"y":114,"t":"7"},{"x":248,"y":626,"t":"L"}]},"mark":{"type":"text","align":"center","baseline":"middle","fontSize":10.5,"color":"#b03a3a"},"encoding":{"text":{"field":"t"}}},
{"data":{"values":[{"x":257,"x2":1073,"y":87,"y2":654}]},"mark":{"type":"rect","color":"#004aff"},"encoding":{"x2":{"field":"x2"},"y2":{"field":"y2"}}},
{"data":{"name":"contL"},"mark":{"type":"area","line":false},"encoding":{"y2":{"field":"y2"},"color":{"field":"l","type":"ordinal","legend":null},"detail":{"field":"b"}}},
{"data":{"values":[{"x":275,"y":654,"y2":664},{"x":1050,"y":654,"y2":664}]},"mark":{"type":"rule","color":"#b03a3a","strokeWidth":1},"encoding":{"y2":{"field":"y2"}}},
{"data":{"values":[{"x":262,"x2":645,"y":667,"y2":683}]},"mark":{"type":"rect","color":"#12eef0"},"encoding":{"x2":{"field":"x2"},"y2":{"field":"y2"}}},
{"data":{"values":[{"x":645,"x2":1023,"y":667,"y2":683}]},"mark":{"type":"rect","color":"#000000"},"encoding":{"x2":{"field":"x2"},"y2":{"field":"y2"}}},
{"data":{"values":[{"x":280,"y":656,"t":"+0.000E+00Hz"},{"x":660,"y":694,"t":"+4.503E+08Hz"}]},"mark":{"type":"text","align":"center","baseline":"middle","fontSize":4.4,"color":"#f4f4f4"},"encoding":{"text":{"field":"t"}}},
{"data":{"values":[{"x":1078,"y":656,"t":"+1.000E+09Hz"}]},"mark":{"type":"text","align":"right","baseline":"middle","fontSize":4.4,"color":"#f4f4f4"},"encoding":{"text":{"field":"t"}}},
{"data":{"values":[{"x":560,"y":35,"t":"Original Design E-Field at 450 MHz"}]},"mark":{"type":"text","align":"center","baseline":"middle","font":"Lato","fontWeight":"bold","fontSize":18.5,"color":"#111111"},"encoding":{"text":{"field":"t"}}},
{"data":{"values":[{"x":30,"y":795,"t":"修正设计后远场三次谐波降低。"}]},"mark":{"type":"text","align":"left","baseline":"middle","font":"Noto Sans CJK SC","fontSize":17.5,"color":"#222222"},"encoding":{"text":{"field":"t"}}},
{"data":{"values":[{"x":30,"y":335,"y2":380}]},"mark":{"type":"rule","color":"#b5e8ec","strokeWidth":1},"encoding":{"y2":{"field":"y2"}}}
]},
{"encoding":{"x":{"field":"x","type":"quantitative","scale":{"domain":[39,1047],"range":[373,709]},"axis":null},"y":{"field":"y","type":"quantitative","scale":{"domain":[81,702],"range":[27,234]},"axis":null}},
"layer":[
{"data":{"values":[{"x":39,"x2":1047,"y":81,"y2":702}]},"mark":{"type":"rect","fill":{"x1":0,"y1":0,"x2":0,"y2":1,"gradient":"linear","stops":[{"offset":0,"color":"#dcdcdc"},{"offset":1,"color":"#8c8c8c"}]}},"encoding":{"x2":{"field":"x2"},"y2":{"field":"y2"}}},
{"data":{"name":"swatches"},"mark":{"type":"rect"},"encoding":{"x":{"field":"xr","type":"quantitative"},"x2":{"field":"xr2"},"y2":{"field":"y2"},"color":{"field":"l","type":"ordinal","scale":{"domain":[0,1,2,3,4,5,6,7,8,9,10,11,12,13],"range":["#004aff","#0090ff","#00d8ff","#00ffdf","#00ff95","#00ff4a","#00ff00","#4aff00","#95ff00","#dfff00","#ffd800","#ff9000","#ff4a00","#ff0000"]},"legend":null}}},
{"data":{"values":[{"x":41,"x2":97,"y":657,"y2":702}]},"mark":{"type":"rect","filled":false,"stroke":"#152a55","strokeWidth":1.5},"encoding":{"x2":{"field":"x2"},"y2":{"field":"y2"}}},
{"data":{"values":[{"x":103,"y":92,"t":"+4.753E-01V/m"},{"x":103,"y":134,"t":"+4.413E-01V/m"},{"x":103,"y":178,"t":"+4.074E-01V/m"},{"x":103,"y":221,"t":"+3.734E-01V/m"},{"x":103,"y":264,"t":"+3.395E-01V/m"},{"x":103,"y":308,"t":"+3.055E-01V/m"},{"x":103,"y":352,"t":"+2.716E-01V/m"},{"x":103,"y":395,"t":"+2.376E-01V/m"},{"x":103,"y":439,"t":"+2.037E-01V/m"},{"x":103,"y":482,"t":"+1.697E-01V/m"},{"x":103,"y":526,"t":"+1.358E-01V/m"},{"x":103,"y":569,"t":"+1.018E-01V/m"},{"x":103,"y":612,"t":"+6.790E-02V/m"},{"x":103,"y":656,"t":"+3.395E-02V/m"},{"x":103,"y":695,"t":"+5.351E-09V/m"}]},"mark":{"type":"text","align":"left","baseline":"middle","fontSize":4.8,"color":"#444444"},"encoding":{"text":{"field":"t"}}},
{"data":{"values":[{"x":244,"y":358,"t":"71.98 mm"}]},"mark":{"type":"text","angle":270,"align":"center","baseline":"middle","fontSize":10.5,"color":"#b03a3a"},"encoding":{"text":{"field":"t"}}},
{"data":{"values":[{"x":677,"y":654,"t":"108.78 mm"},{"x":241,"y":114,"t":"7"},{"x":241,"y":626,"t":"L"}]},"mark":{"type":"text","align":"center","baseline":"middle","fontSize":10.5,"color":"#b03a3a"},"encoding":{"text":{"field":"t"}}},
{"data":{"values":[{"x":248,"x2":1047,"y":87,"y2":654}]},"mark":{"type":"rect","color":"#004aff"},"encoding":{"x2":{"field":"x2"},"y2":{"field":"y2"}}},
{"data":{"name":"contR"},"mark":{"type":"area","line":false},"encoding":{"y2":{"field":"y2"},"color":{"field":"l","type":"ordinal","legend":null},"detail":{"field":"b"}}},
{"data":{"values":[{"x":268,"y":654,"y2":664},{"x":1040,"y":654,"y2":664}]},"mark":{"type":"rule","color":"#b03a3a","strokeWidth":1},"encoding":{"y2":{"field":"y2"}}},
{"data":{"values":[{"x":256,"x2":637,"y":667,"y2":683}]},"mark":{"type":"rect","color":"#12eef0"},"encoding":{"x2":{"field":"x2"},"y2":{"field":"y2"}}},
{"data":{"values":[{"x":637,"x2":1019,"y":667,"y2":683}]},"mark":{"type":"rect","color":"#000000"},"encoding":{"x2":{"field":"x2"},"y2":{"field":"y2"}}},
{"data":{"values":[{"x":272,"y":656,"t":"+0.000E+00Hz"},{"x":653,"y":694,"t":"+4.503E+08Hz"}]},"mark":{"type":"text","align":"center","baseline":"middle","fontSize":4.4,"color":"#f4f4f4"},"encoding":{"text":{"field":"t"}}},
{"data":{"values":[{"x":1044,"y":656,"t":"+1.000E+09Hz"}]},"mark":{"type":"text","align":"right","baseline":"middle","fontSize":4.4,"color":"#f4f4f4"},"encoding":{"text":{"field":"t"}}},
{"data":{"values":[{"x":561,"y":35,"t":"Modified Design E-Field at 450 MHz"}]},"mark":{"type":"text","align":"center","baseline":"middle","font":"Lato","fontWeight":"bold","fontSize":18.5,"color":"#111111"},"encoding":{"text":{"field":"t"}}},
{"data":{"values":[{"x":6,"y":10,"t":"1"}]},"mark":{"type":"text","align":"center","baseline":"alphabetic","font":"Liberation Serif","fontWeight":"bold","fontSize":18,"color":"#e01010"},"encoding":{"text":{"field":"t"}}}
]},
{"encoding":{"x":{"field":"x","type":"quantitative","scale":{"domain":[0,1],"range":[68.3,693]},"axis":{"orient":"bottom","offset":-567,"values":[0,0.2,0.4,0.6,0.8,1],"format":".2f","labelFontSize":10,"labelColor":"#444444","domainColor":"#999999","tickColor":"#777777","tickSize":5,"labelPadding":3,"title":"Freq [GHz]","titleFontSize":10,"titleColor":"#444444","titlePadding":4}},"y":{"field":"y","type":"quantitative","scale":{"domain":[-160,-60],"range":[494,290.7]},"axis":{"orient":"left","offset":-68.3,"values":[-160,-140,-120,-100,-80,-60],"labelExpr":"replace(format(datum.value,'.2f'),'−','-')","labelFontSize":9.5,"labelColor":"#444444","domainColor":"#999999","tickColor":"#777777","tickSize":5,"labelPadding":4,"title":"dB(MaxETotal)","titleFontSize":10,"titleColor":"#444444","titlePadding":3}}},
"layer":[
{"data":{"name":"gridLX"},"mark":{"type":"rule","strokeWidth":1},"encoding":{"y2":{"field":"y2"},"stroke":{"condition":{"test":"datum.k=='M'","value":"#cccccc"},"value":"#ececec"}}},
{"data":{"name":"gridLY"},"mark":{"type":"rule","strokeWidth":1},"encoding":{"x2":{"field":"x2"},"stroke":{"condition":{"test":"datum.k=='M'","value":"#cccccc"},"value":"#ececec"}}},
{"data":{"name":"gridLX"},"mark":{"type":"rule","color":"#888888"},"encoding":{"y2":{"field":"t"}}},
{"data":{"name":"gridLY"},"mark":{"type":"rule","color":"#888888"},"encoding":{"x2":{"field":"t"}}},
{"data":{"values":[{"x":0,"x2":1,"y":-60}]},"mark":{"type":"rule","color":"#999999","strokeWidth":1.5},"encoding":{"x2":{"field":"x2"}}},
{"data":{"values":[{"x":1,"y":-60,"y2":-160}]},"mark":{"type":"rule","color":"#aaaaaa","strokeWidth":1},"encoding":{"y2":{"field":"y2"}}},
{"data":{"values":[{"x":0.058,"x2":0.182,"y":-64.4,"y2":-80.3}]},"mark":{"type":"rect","color":"#a8a8a8"},"encoding":{"x2":{"field":"x2"},"y2":{"field":"y2"}}},
{"data":{"values":[{"x":0.0535,"x2":0.0972,"y":-62.95,"y2":-68.4},{"x":0.0972,"x2":0.1308,"y":-62.95,"y2":-68.4},{"x":0.1308,"x2":0.1775,"y":-62.95,"y2":-68.4},{"x":0.0535,"x2":0.0972,"y":-68.4,"y2":-73.9},{"x":0.0972,"x2":0.1308,"y":-68.4,"y2":-73.9},{"x":0.1308,"x2":0.1775,"y":-68.4,"y2":-73.9},{"x":0.0535,"x2":0.0972,"y":-73.9,"y2":-78.8},{"x":0.0972,"x2":0.1308,"y":-73.9,"y2":-78.8},{"x":0.1308,"x2":0.1775,"y":-73.9,"y2":-78.8}]},"mark":{"type":"rect","fill":"#ffffff","stroke":"#777777","strokeWidth":0.8},"encoding":{"x2":{"field":"x2"},"y2":{"field":"y2"}}},
{"data":{"values":[{"x":0.0754,"y":-65.7,"t":"Name"},{"x":0.0754,"y":-71.15,"t":"m1"},{"x":0.0754,"y":-76.35,"t":"m2"},{"x":0.45,"y":-59.7,"t":"m1"},{"x":0.45,"y":-96.9,"t":"m2"}]},"mark":{"type":"text","align":"center","baseline":"middle","fontSize":5.5,"fontWeight":"bold","color":"#333333"},"encoding":{"text":{"field":"t"}}},
{"data":{"values":[{"x":0.114,"y":-65.7,"t":"X"},{"x":0.1542,"y":-65.7,"t":"Y"},{"x":0.114,"y":-71.15,"t":"0.4500"},{"x":0.1542,"y":-71.15,"t":"-64.9390"},{"x":0.114,"y":-76.35,"t":"0.4500"},{"x":0.1542,"y":-76.35,"t":"-102.5250"}]},"mark":{"type":"text","align":"center","baseline":"middle","fontSize":5.5,"color":"#444444"},"encoding":{"text":{"field":"t"}}},
{"data":{"values":[{"x":0.494,"y":-56.2,"t":"Rectangular Plot 1"}]},"mark":{"type":"text","align":"center","baseline":"bottom","fontSize":8,"color":"#555555"},"encoding":{"text":{"field":"t"}}},
{"data":{"values":[{"x":0.435,"x2":0.555,"y":-50,"y2":-54.7}]},"mark":{"type":"rect","color":"#ffffff"},"encoding":{"x2":{"field":"x2"},"y2":{"field":"y2"}}},
{"data":{"name":"curves"},"mark":{"type":"line","color":"#e2202e","strokeWidth":2},"encoding":{"y":{"field":"o","type":"quantitative"}}},
{"data":{"name":"curves"},"mark":{"type":"line","color":"#22ee2a","strokeWidth":2},"encoding":{"y":{"field":"m","type":"quantitative"}}},
{"data":{"values":[{"x":0.45,"y":-62.9}]},"mark":{"type":"point","shape":"triangle-down","filled":true,"fill":"#ffffff","stroke":"#888888","size":22,"strokeWidth":0.7}},
{"data":{"values":[{"x":0.4093,"x2":0.4878,"y":-64.7},{"x":0.4093,"x2":0.4878,"y":-102.5}]},"mark":{"type":"rule","color":"#2e3d66","strokeWidth":3,"strokeDash":[13,3]},"encoding":{"x2":{"field":"x2"}}},
{"data":{"values":[{"x":0.4485,"y":-65,"y2":-102}]},"mark":{"type":"rule","color":"#1c2c5c","strokeWidth":2.5,"strokeDash":[7,3]},"encoding":{"y2":{"field":"y2"}}},
{"data":{"values":[{"x":0.531,"y":-65.1,"t":"-65"},{"x":0.5318,"y":-105.4,"t":"-102"}]},"mark":{"type":"text","align":"center","baseline":"middle","font":"Lato","fontWeight":"bold","fontSize":17,"color":"#111111"},"encoding":{"text":{"field":"t"}}},
{"data":{"values":[{"x":0.5838,"y":-135.9,"t":"Red – Original Design"}]},"mark":{"type":"text","align":"left","baseline":"middle","font":"Lato","fontWeight":"bold","fontSize":21.6,"color":"#e01b24"},"encoding":{"text":{"field":"t"}}},
{"data":{"values":[{"x":0.5838,"y":-149.7,"t":"Green – Modified Design"}]},"mark":{"type":"text","align":"left","baseline":"middle","font":"Lato","fontWeight":"bold","fontSize":21.6,"color":"#22e62a"},"encoding":{"text":{"field":"t"}}}
]},
{"encoding":{"x":{"field":"x","type":"quantitative","scale":{"domain":[0,709],"range":[0,709]},"axis":null},"y":{"field":"y","type":"quantitative","scale":{"domain":[570,750],"range":[570,750]},"axis":null}},
"layer":[
{"data":{"values":[{"x":16.8,"y":575,"y2":737},{"x":44,"y":575,"y2":737},{"x":71.2,"y":575,"y2":737},{"x":98.4,"y":575,"y2":737},{"x":125.6,"y":575,"y2":737},{"x":152.8,"y":575,"y2":737},{"x":180,"y":575,"y2":737},{"x":207.2,"y":575,"y2":737},{"x":234.4,"y":575,"y2":737},{"x":261.6,"y":575,"y2":737},{"x":288.8,"y":575,"y2":737},{"x":316,"y":575,"y2":737},{"x":343.2,"y":575,"y2":737},{"x":370.4,"y":575,"y2":737},{"x":397.6,"y":575,"y2":737},{"x":424.8,"y":575,"y2":737},{"x":452,"y":575,"y2":737},{"x":479.2,"y":575,"y2":737},{"x":506.4,"y":575,"y2":737},{"x":533.6,"y":575,"y2":737},{"x":560.8,"y":575,"y2":737},{"x":588,"y":575,"y2":737},{"x":615.2,"y":575,"y2":737},{"x":642.4,"y":575,"y2":737},{"x":669.6,"y":575,"y2":737},{"x":696.8,"y":575,"y2":737}]},"mark":{"type":"rule","color":"#e9ecf7"},"encoding":{"y2":{"field":"y2"}}},
{"data":{"values":[{"y":576.7,"x":11,"x2":698},{"y":604,"x":11,"x2":698},{"y":631.7,"x":11,"x2":698},{"y":659.3,"x":11,"x2":698},{"y":687,"x":11,"x2":698},{"y":714.5,"x":11,"x2":698}]},"mark":{"type":"rule","color":"#e9ecf7"},"encoding":{"x2":{"field":"x2"}}},
{"data":{"values":[{"x":65.7,"x2":131.4,"y":600,"y2":665},{"x":587.7,"x2":652.5,"y":600,"y2":665}]},"mark":{"type":"rect","filled":false,"stroke":"#45c4cc","strokeWidth":1.5},"encoding":{"x2":{"field":"x2"},"y2":{"field":"y2"}}},
{"data":{"values":[{"x":290,"x2":455.5,"y":605,"y2":659.3}]},"mark":{"type":"rect","filled":false,"stroke":"#333333","strokeWidth":1.5},"encoding":{"x2":{"field":"x2"},"y2":{"field":"y2"}}},
{"data":{"values":[{"x":293,"x2":297.7,"y":630.3,"y2":635.7}]},"mark":{"type":"rect","color":"#000000"},"encoding":{"x2":{"field":"x2"},"y2":{"field":"y2"}}},
{"data":{"values":[{"p":"a","o":1,"k":"port","x":108.7,"y":610.7},{"p":"a","o":2,"k":"port","x":87,"y":621.7},{"p":"a","o":3,"k":"port","x":108.7,"y":632},{"p":"a","o":4,"k":"port","x":108.7,"y":610.7},{"p":"b","o":1,"k":"port","x":87.4,"y":632},{"p":"b","o":2,"k":"port","x":108.7,"y":642.7},{"p":"b","o":3,"k":"port","x":87.4,"y":654},{"p":"b","o":4,"k":"port","x":87.4,"y":632},{"p":"c","o":1,"k":"port","x":70.2,"y":604.3},{"p":"c","o":2,"k":"port","x":80.6,"y":604.3},{"p":"c","o":3,"k":"port","x":80.6,"y":621.7},{"p":"c","o":4,"k":"port","x":87,"y":621.7},{"p":"d","o":1,"k":"port","x":70.2,"y":604.3},{"p":"d","o":2,"k":"port","x":70.2,"y":645},{"p":"d","o":3,"k":"port","x":87.4,"y":645},{"p":"e","o":1,"k":"port","x":97.4,"y":623.3},{"p":"e","o":2,"k":"port","x":97.4,"y":633},{"p":"f","o":1,"k":"port","x":108.7,"y":632},{"p":"f","o":2,"k":"port","x":154,"y":632},{"p":"g","o":1,"k":"port","x":609.4,"y":610.7},{"p":"g","o":2,"k":"port","x":629.8,"y":621.7},{"p":"g","o":3,"k":"port","x":609.4,"y":632},{"p":"g","o":4,"k":"port","x":609.4,"y":610.7},{"p":"h","o":1,"k":"port","x":630.7,"y":632},{"p":"h","o":2,"k":"port","x":609.4,"y":642.7},{"p":"h","o":3,"k":"port","x":630.7,"y":654},{"p":"h","o":4,"k":"port","x":630.7,"y":632},{"p":"i","o":1,"k":"port","x":645.7,"y":604.3},{"p":"i","o":2,"k":"port","x":636.6,"y":604.3},{"p":"i","o":3,"k":"port","x":636.6,"y":621.7},{"p":"i","o":4,"k":"port","x":629.8,"y":621.7},{"p":"j","o":1,"k":"port","x":645.7,"y":604.3},{"p":"j","o":2,"k":"port","x":645.7,"y":645},{"p":"j","o":3,"k":"port","x":630.7,"y":645},{"p":"k","o":1,"k":"port","x":619.8,"y":623.3},{"p":"k","o":2,"k":"port","x":619.8,"y":633},{"p":"l","o":1,"k":"port","x":565.5,"y":632},{"p":"l","o":2,"k":"port","x":609.4,"y":632},{"p":"m","o":1,"k":"net","x":154,"y":632},{"p":"m","o":2,"k":"net","x":263.5,"y":632},{"p":"n","o":1,"k":"net","x":482.7,"y":632},{"p":"n","o":2,"k":"net","x":565.5,"y":632},{"p":"q","o":1,"k":"lead","x":263.5,"y":632},{"p":"q","o":2,"k":"lead","x":290,"y":632},{"p":"r","o":1,"k":"lead","x":455.5,"y":632},{"p":"r","o":2,"k":"lead","x":482.7,"y":632}]},"mark":{"type":"line","strokeWidth":1.2},"encoding":{"detail":{"field":"p"},"order":{"field":"o"},"color":{"field":"k","type":"nominal","scale":{"domain":["port","net","lead"],"range":["#45c4cc","#5a52d5","#555555"]},"legend":null}}},
{"data":{"values":[{"x":147,"y":620,"t":"io LSPI_SCK_R_U2A5_AM35"},{"x":411.4,"y":620,"t":"LSPI_SCK_U2B4_6 io"}]},"mark":{"type":"text","align":"left","baseline":"middle","fontSize":16,"color":"#333333"},"encoding":{"text":{"field":"t"}}},
{"data":{"values":[{"x":78,"y":693,"t":"ID=1"},{"x":27,"y":711.7,"t":"input_output"},{"x":606,"y":693,"t":"ID=2"},{"x":606,"y":711.7,"t":"input_output"}]},"mark":{"type":"text","align":"left","baseline":"middle","fontSize":15.5,"color":"#333333"},"encoding":{"text":{"field":"t"}}}
]},
{"encoding":{"x":{"field":"x","type":"quantitative","scale":{"domain":[0,800],"range":[73.7,681.3]},"axis":{"orient":"bottom","offset":-45.3,"values":[0,100,200,300,400,500,600,700,800],"format":".2f","labelFontSize":11.5,"labelColor":"#444444","domainColor":"#999999","tickColor":"#777777","tickSize":5,"labelPadding":2,"title":"Spectrum [MHz]","titleFontSize":12,"titleColor":"#444444","titlePadding":2}},"y":{"field":"y","type":"quantitative","scale":{"domain":[-80,10],"range":[1015.7,797.3]},"axis":{"orient":"left","offset":-73.7,"values":[-80,-70,-60,-50,-40,-30,-20,-10,0,10],"labelExpr":"replace(format(datum.value,'.2f'),'−','-')","labelFontSize":12,"labelColor":"#444444","domainColor":"#999999","tickColor":"#777777","tickSize":5,"labelPadding":4,"title":"dB(V(net_1))","titleFontSize":12,"titleColor":"#444444","titlePadding":4}}},
"layer":[
{"data":{"name":"gridSX"},"mark":{"type":"rule","strokeWidth":1},"encoding":{"y2":{"field":"y2"},"stroke":{"condition":{"test":"datum.k=='M'","value":"#cccccc"},"value":"#efefef"}}},
{"data":{"name":"gridSY"},"mark":{"type":"rule","strokeWidth":1},"encoding":{"x2":{"field":"x2"},"stroke":{"condition":{"test":"datum.k=='M'","value":"#cccccc"},"value":"#efefef"}}},
{"data":{"name":"gridSX"},"mark":{"type":"rule","color":"#888888"},"encoding":{"y2":{"field":"t"}}},
{"data":{"name":"gridSY"},"mark":{"type":"rule","color":"#888888"},"encoding":{"x2":{"field":"t"}}},
{"data":{"values":[{"x":0,"x2":800,"y":10}]},"mark":{"type":"rule","color":"#999999","strokeWidth":1.5},"encoding":{"x2":{"field":"x2"}}},
{"data":{"values":[{"x":800,"y":10,"y2":-80}]},"mark":{"type":"rule","color":"#aaaaaa","strokeWidth":1},"encoding":{"y2":{"field":"y2"}}},
{"data":{"name":"spectrum"},"mark":{"type":"area","color":"#ed1c24","interpolate":"step"},"encoding":{"x":{"field":"f","type":"quantitative"},"y":{"field":"v","type":"quantitative"},"y2":{"datum":-80}}},
{"data":{"values":[{"x":399,"y":15.1,"t":"Transient Voltage Plot 4"}]},"mark":{"type":"text","align":"center","baseline":"middle","fontSize":14,"color":"#333333"},"encoding":{"text":{"field":"t"}}},
{"data":{"values":[{"x":738.5,"x2":821.4,"y":10.2,"y2":-5.4}]},"mark":{"type":"rect","color":"#a8a8a8"},"encoding":{"x2":{"field":"x2"},"y2":{"field":"y2"}}},
{"data":{"values":[{"x":734.6,"x2":817.5,"y":11.4,"y2":-4.2}]},"mark":{"type":"rect","fill":"#ffffff","stroke":"#777777","strokeWidth":1},"encoding":{"x2":{"field":"x2"},"y2":{"field":"y2"}}},
{"data":{"values":[{"x":738.6,"x2":754.4,"y":4.5}]},"mark":{"type":"rule","color":"#ed1c24","strokeWidth":1},"encoding":{"x2":{"field":"x2"}}},
{"data":{"values":[{"x":775.4,"y":9.2,"t":"Curve Info"}]},"mark":{"type":"text","align":"center","baseline":"middle","fontSize":6.5,"color":"#444444"},"encoding":{"text":{"field":"t"}}},
{"data":{"values":[{"x":814.6,"y":4.5,"t":"dB(V(net_1))"}]},"mark":{"type":"text","align":"right","baseline":"middle","fontSize":6.5,"color":"#444444"},"encoding":{"text":{"field":"t"}}},
{"data":{"values":[{"x":737.3,"y":1.3,"t":"NexximTransient"}]},"mark":{"type":"text","align":"left","baseline":"middle","fontSize":6.5,"color":"#444444"},"encoding":{"text":{"field":"t"}}},
{"data":{"values":[{"x":754.3,"y":15.5,"t":"Circuit1"}]},"mark":{"type":"text","align":"left","baseline":"middle","fontSize":7.5,"color":"#444444"},"encoding":{"text":{"field":"t"}}},
{"data":{"values":[{"x":815,"y":15.5}]},"mark":{"type":"point","shape":"triangle-up","filled":true,"color":"#b05050","size":45}}
]}
]}
